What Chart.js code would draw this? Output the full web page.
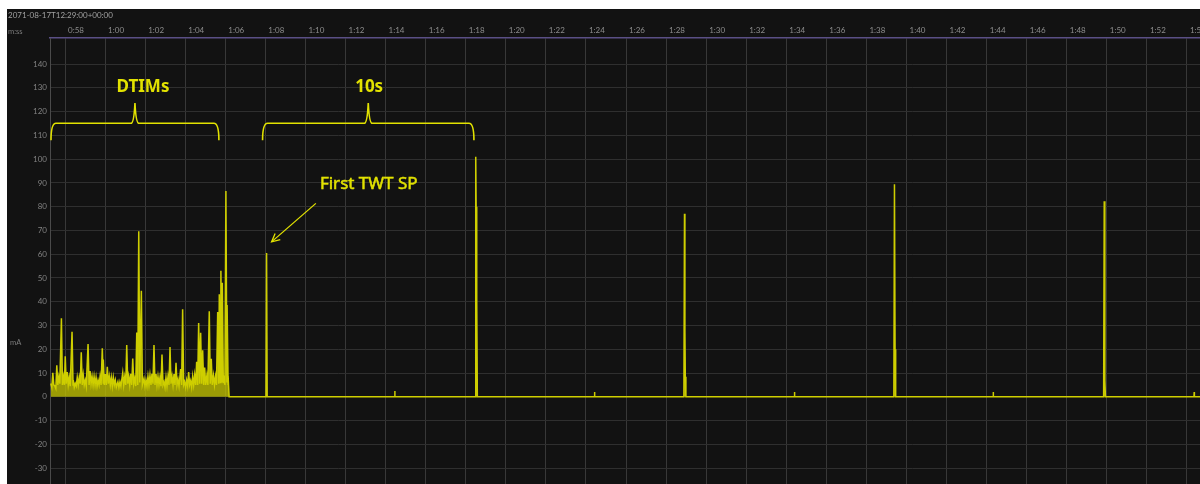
<!DOCTYPE html>
<html>
<head>
<meta charset="utf-8">
<script src="https://cdn.jsdelivr.net/npm/chart.js@4.4.1/dist/chart.umd.min.js"></script>
<style>
  html, body { margin: 0; padding: 0; background: #fff; overflow: hidden; }
  #currentChart { position: absolute; left: 7px; top: 9px; background: #121212; }
</style>
</head>
<body>
<canvas id="currentChart" width="1193" height="475"></canvas>
<script>
// time axis in seconds since 12:29:00, current in mA
const tickLabels = ['0:58', '1:00', '1:02', '1:04', '1:06', '1:08', '1:10', '1:12', '1:14', '1:16',
  '1:18', '1:20', '1:22', '1:24', '1:26', '1:28', '1:30', '1:32', '1:34', '1:36', '1:38', '1:40',
  '1:42', '1:44', '1:46', '1:48', '1:50', '1:52', '1:54'];
const yTicks = [-30, -20, -10, 0, 10, 20, 30, 40, 50, 60, 70, 80, 90, 100, 110, 120, 130, 140];

// DTIM wake-ups (every ~100 ms)
const dtimTimes = [57.29, 57.39, 57.49, 57.59, 57.69, 57.82, 57.92, 58.01, 58.11, 58.21,
  58.35, 58.41, 58.51, 58.61, 58.71, 58.81, 58.91, 59.01, 59.15, 59.25,
  59.35, 59.45, 59.55, 59.65, 59.75, 59.86, 59.91, 60.01, 60.11, 60.21,
  60.31, 60.41, 60.51, 60.64, 60.74, 60.88, 60.98, 61.08, 61.18, 61.28,
  61.38, 61.48, 61.58, 61.68, 61.81, 61.94, 62.04, 62.14, 62.24, 62.34,
  62.44, 62.54, 62.64, 62.74, 62.84, 62.94, 63.04, 63.14, 63.24, 63.34,
  63.44, 63.54, 63.64, 63.77, 63.87, 63.97, 64.07, 64.17, 64.27, 64.37,
  64.47, 64.57, 64.67, 64.77, 64.87, 64.97, 65.08, 65.20, 65.30, 65.41,
  65.51, 65.62, 65.70, 65.78, 65.85, 65.93, 66.03, 66.09, 66.14];
const dtimPeaks = [5.6, 10.1, 4.6, 13.3, 8.4, 33, 8.4, 17.1, 10.4, 8.2,
  27.4, 7, 5.6, 8.2, 8.2, 18.7, 9.1, 7, 22.2, 10.8,
  8.6, 8.6, 8.2, 7, 8.6, 20.4, 15.7, 9.6, 12.6, 8.6,
  8.2, 8.2, 7, 6.3, 6.3, 10.1, 8.4, 21.8, 8.6, 9.7,
  16.1, 7.7, 27.1, 69.7, 44.6, 7.7, 7, 8.6, 9.1, 9.7,
  21.8, 9.6, 8.6, 8.2, 17.8, 6.3, 8.2, 8.6, 20.9, 8.6,
  9.6, 14.3, 7.3, 11.7, 36.8, 6.3, 7, 10.4, 6.7, 8.6,
  9.1, 14.7, 31.1, 27, 19.6, 12.3, 9, 36, 16, 9,
  8.5, 35.7, 43.2, 53, 48, 9, 86.6, 38.6, 8.7];
const dtimGaps = [4, 5, 3.5, 5, 5.5, 5, 5, 5.5, 5, 4.5,
  5, 4, 4.5, 5, 5.5, 5, 5, 4.5, 5, 5.5,
  5, 5, 4.5, 5, 5, 5.5, 5, 5, 5.5, 5,
  4.5, 5, 4, 4, 4.5, 5, 5, 5.5, 5, 5,
  5.5, 4.5, 5, 6, 5, 4.5, 4.5, 5, 5, 5.5,
  5, 5, 5, 4.5, 5, 4, 4.5, 5, 5.5, 5,
  5, 5, 4.5, 5, 5, 4, 4.5, 5, 4, 5,
  5, 5, 5.5, 5.5, 5, 5, 5, 5.5, 5, 5,
  5, 5.5, 6, 6, 6, 5, 6, 5, 0];

// TWT service periods and idle baseline
const twtTimes = [66.2, 68.03, 68.06, 68.09, 74.45, 74.46, 74.47, 78.47, 78.5, 78.52,
  78.55, 78.58, 84.42, 84.43, 84.44, 88.89, 88.92, 88.94, 88.96, 88.99,
  94.4, 94.41, 94.42, 99.37, 99.4, 99.43, 99.46, 104.32, 104.33, 104.34,
  109.84, 109.87, 109.9, 109.93, 114.35, 114.36, 114.37, 114.7];
const twtValues = [0, 0, 60.5, 0, 0, 2.4, 0, 0, 101, 80,
  40, 0, 0, 2, 0, 0, 77, 27.8, 8.4, 0,
  0, 2, 0, 0, 89.5, 20, 0, 0, 2, 0,
  0, 82.3, 7, 0, 0, 2, 0, 0];

// annotations (data units)
const braceStarts = [57.3, 67.86];
const braceEnds = [65.68, 78.41];
const braceLabels = ['DTIMs', '10s'];
const braceLabelTimes = [61.89, 73.18];

function toSeconds(lbl) {
  const p = lbl.split(':');
  return parseInt(p[0]) * 60 + parseInt(p[1]);
}
const tickValues = tickLabels.map(toSeconds);

const points = [];
dtimTimes.forEach((t, i) => {
  points.push({ x: t, y: dtimPeaks[i] });
  points.push({ x: t + 0.05, y: dtimGaps[i] });
});
twtTimes.forEach((t, i) => points.push({ x: t, y: twtValues[i] }));

function noPad(s) {
  s.paddingTop = 0;
  s.paddingBottom = 0;
  s.paddingLeft = 0;
  s.paddingRight = 0;
}

const annotate = {
  id: 'annotate',
  afterDatasetsDraw(chart) {
    const { ctx, scales: { x, y } } = chart;
    ctx.save();
    ctx.strokeStyle = '#e2e200';
    ctx.fillStyle = '#e2e200';
    ctx.lineWidth = 1.6;
    const yh = y.getPixelForValue(115.1), ye = y.getPixelForValue(108), yt = y.getPixelForValue(123.6);
    braceStarts.forEach((s, i) => {
      const x1 = x.getPixelForValue(s), x2 = x.getPixelForValue(braceEnds[i]);
      const xm = (x1 + x2) / 2;
      ctx.beginPath();
      ctx.moveTo(x1, ye);
      ctx.quadraticCurveTo(x1, yh, x1 + 5, yh);
      ctx.lineTo(xm - 4, yh);
      ctx.quadraticCurveTo(xm - 1, yh, xm, yt);
      ctx.quadraticCurveTo(xm + 1, yh, xm + 4, yh);
      ctx.lineTo(x2 - 5, yh);
      ctx.quadraticCurveTo(x2, yh, x2, ye);
      ctx.stroke();
      ctx.font = 'bold 17px "Noto Sans"';
      ctx.textAlign = 'center';
      ctx.textBaseline = 'middle';
      ctx.fillText(braceLabels[i], x.getPixelForValue(braceLabelTimes[i]), y.getPixelForValue(130.3));
    });
    ctx.font = '17px "Noto Sans"';
    ctx.textAlign = 'center';
    ctx.textBaseline = 'middle';
    const tx = x.getPixelForValue(73.16), ty = y.getPixelForValue(89.7);
    ctx.fillText('First TWT SP', tx, ty);
    ctx.lineWidth = 0.5;
    ctx.strokeText('First TWT SP', tx, ty);
    // arrow
    const ax1 = x.getPixelForValue(70.52), ay1 = y.getPixelForValue(81.4);
    const ax2 = x.getPixelForValue(68.31), ay2 = y.getPixelForValue(65.2);
    ctx.lineWidth = 1.3;
    ctx.beginPath();
    ctx.moveTo(ax1, ay1);
    ctx.lineTo(ax2, ay2);
    ctx.stroke();
    const ang = Math.atan2(ay2 - ay1, ax2 - ax1);
    ctx.beginPath();
    ctx.moveTo(ax2 - 9 * Math.cos(ang - 0.45), ay2 - 9 * Math.sin(ang - 0.45));
    ctx.lineTo(ax2, ay2);
    ctx.lineTo(ax2 - 9 * Math.cos(ang + 0.45), ay2 - 9 * Math.sin(ang + 0.45));
    ctx.stroke();

    // header texts
    ctx.font = '8px Lato';
    ctx.textAlign = 'left';
    ctx.fillStyle = '#a0a0a0';
    ctx.fillText('2071-08-17T12:29:00+00:00', 1, 6);
    ctx.fillStyle = '#7c7c7c';
    ctx.font = '7.5px Lato';
    ctx.fillText('m:ss', 1, 23);
    ctx.fillText('mA', 3, 334);
    ctx.restore();
  }
};

const ctx = document.getElementById('currentChart').getContext('2d');
const currentChart = new Chart(ctx, {
  type: 'line',
  data: {
    datasets: [{
      data: points,
      borderColor: 'rgb(206,206,0)',
      backgroundColor: 'rgba(200,200,0,0.75)',
      fill: 'origin',
      borderWidth: 1.5,
      pointRadius: 0,
      tension: 0
    }]
  },
  options: {
    responsive: false,
    animation: false,
    layout: { padding: 0 },
    plugins: {
      legend: { display: false },
      tooltip: { enabled: false }
    },
    scales: {
      x: {
        type: 'linear',
        position: 'top',
        min: 57.25,
        max: 114.65,
        afterFit: s => { s.height = 29; noPad(s); },
        afterBuildTicks: s => { s.ticks = tickValues.map(v => ({ value: v })); },
        ticks: {
          callback: (v, i) => tickLabels[i],
          color: '#8c8c8c',
          font: { family: 'Lato', size: 8 },
          align: 'start',
          labelOffset: 3,
          padding: 3,
          maxRotation: 0,
          autoSkip: false
        },
        grid: { color: '#383838', drawTicks: false },
        border: { color: '#5a4f85', width: 1.5 }
      },
      y: {
        min: -36.7,
        max: 151,
        afterFit: s => { s.width = 43; noPad(s); },
        afterBuildTicks: s => { s.ticks = yTicks.map(v => ({ value: v })); },
        ticks: {
          color: '#808080',
          font: { family: 'Lato', size: 8 },
          padding: 3
        },
        grid: { color: '#2f2f2f', drawTicks: false },
        border: { color: '#4a4a4a' }
      }
    }
  },
  plugins: [annotate]
});
</script>
</body>
</html>
